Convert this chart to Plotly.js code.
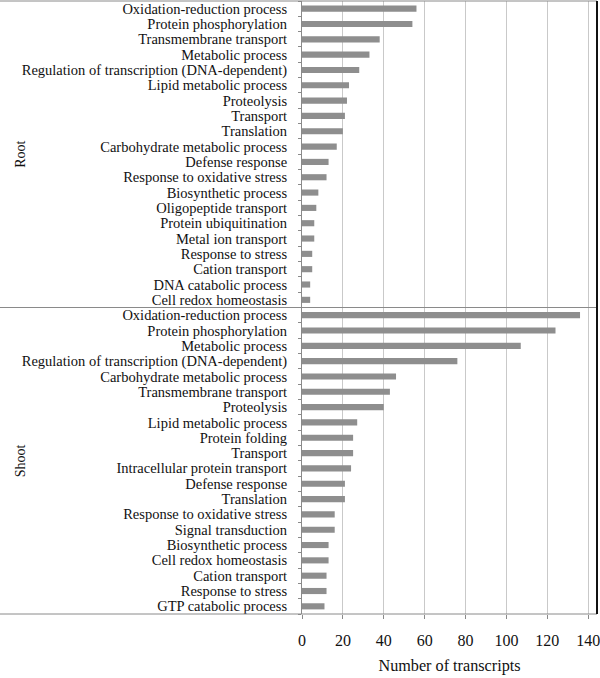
<!DOCTYPE html>
<html>
<head>
<meta charset="utf-8">
<script src="https://cdn.plot.ly/plotly-3.0.1.min.js"></script>
<style>html,body{margin:0;padding:0;background:#fff;}#chart{width:600px;height:678px;}</style>
</head>
<body>
<div id="chart"></div>
<script>
// Root terms
const rootTerms = [
  "Oxidation-reduction process", "Protein phosphorylation", "Transmembrane transport",
  "Metabolic process", "Regulation of transcription (DNA-dependent)", "Lipid metabolic process",
  "Proteolysis", "Transport", "Translation", "Carbohydrate metabolic process",
  "Defense response", "Response to oxidative stress", "Biosynthetic process",
  "Oligopeptide transport", "Protein ubiquitination", "Metal ion transport",
  "Response to stress", "Cation transport", "DNA catabolic process", "Cell redox homeostasis"
];
const rootCounts = [56, 54, 38, 33, 28, 23, 22, 21, 20, 17, 13, 12, 8, 7, 6, 6, 5, 5, 4, 4];

// Shoot terms
const shootTerms = [
  "Oxidation-reduction process", "Protein phosphorylation", "Metabolic process",
  "Regulation of transcription (DNA-dependent)", "Carbohydrate metabolic process",
  "Transmembrane transport", "Proteolysis", "Lipid metabolic process", "Protein folding",
  "Transport", "Intracellular protein transport", "Defense response", "Translation",
  "Response to oxidative stress", "Signal transduction", "Biosynthetic process",
  "Cell redox homeostasis", "Cation transport", "Response to stress", "GTP catabolic process"
];
const shootCounts = [136, 124, 107, 76, 46, 43, 40, 27, 25, 25, 24, 21, 21, 16, 16, 13, 13, 12, 12, 11];

const groupNames = ["Root", "Shoot"];
const xTicks = [0, 20, 40, 60, 80, 100, 120, 140];

const labels = rootTerms.concat(shootTerms);
const counts = rootCounts.concat(shootCounts);
const pos = labels.map((_, i) => i);
const nRoot = rootTerms.length;
const nAll = labels.length;

const font = "'Liberation Serif', 'Times New Roman', serif";
const lineGray = "#8a8a8a";

const trace = {
  type: "bar",
  orientation: "h",
  x: counts,
  y: pos,
  marker: {color: "#8e8e8e", line: {width: 0}},
  hoverinfo: "x+text",
  text: labels,
  textposition: "none"
};

const layout = {
  width: 600,
  height: 678,
  margin: {l: 302, r: 3, t: 1, b: 64},
  paper_bgcolor: "#ffffff",
  plot_bgcolor: "#ffffff",
  bargap: 0.6,
  showlegend: false,
  font: {family: font, color: "#111111", size: 14.5},
  xaxis: {
    range: [0, 144.3],
    tickvals: xTicks,
    ticktext: xTicks.map(String),
    ticks: "outside",
    ticklen: 4,
    tickcolor: lineGray,
    tickfont: {family: font, size: 16, color: "#111111"},
    ticklabelstandoff: 8,
    ticklabeloverflow: "allow",
    showgrid: true,
    gridcolor: "#c9c9c9",
    gridwidth: 1,
    zeroline: false,
    showline: false,
    automargin: false,
    title: {text: "Number of transcripts", font: {family: font, size: 16.2, color: "#111111"}, standoff: 11}
  },
  yaxis: {
    range: [nAll - 0.5, -0.5],
    tickvals: pos,
    ticktext: labels,
    ticks: "",
    tickfont: {family: font, size: 14.5, color: "#111111"},
    ticklabelstandoff: 11,
    showgrid: false,
    zeroline: false,
    showline: true,
    linecolor: lineGray,
    linewidth: 1,
    automargin: false,
    minor: {tick0: -0.5, dtick: 1, ticks: "outside", ticklen: 3, tickcolor: lineGray, showgrid: false}
  },
  shapes: [
    {type: "line", xref: "paper", yref: "paper", x0: -1.03, x1: 1, y0: 1, y1: 1, line: {color: lineGray, width: 1}},
    {type: "line", xref: "paper", yref: "y", x0: -1.03, x1: 1, y0: nRoot - 0.5, y1: nRoot - 0.5, line: {color: lineGray, width: 1}},
    {type: "line", xref: "paper", yref: "paper", x0: -1.03, x1: 1, y0: 0, y1: 0, line: {color: lineGray, width: 1}},
    {type: "line", xref: "paper", yref: "paper", x0: 1, x1: 1, y0: 0, y1: 1, line: {color: "#111111", width: 2}}
  ],
  annotations: [
    {xref: "paper", yref: "y", x: -0.954, y: (nRoot - 1) / 2, xanchor: "center", yanchor: "middle", text: groupNames[0], showarrow: false, textangle: -90, font: {family: font, size: 14, color: "#111111"}},
    {xref: "paper", yref: "y", x: -0.954, y: nRoot + (nAll - nRoot - 1) / 2, xanchor: "center", yanchor: "middle", text: groupNames[1], showarrow: false, textangle: -90, font: {family: font, size: 14, color: "#111111"}}
  ]
};

Plotly.newPlot("chart", [trace], layout, {staticPlot: true, displayModeBar: false});
</script>
</body>
</html>
